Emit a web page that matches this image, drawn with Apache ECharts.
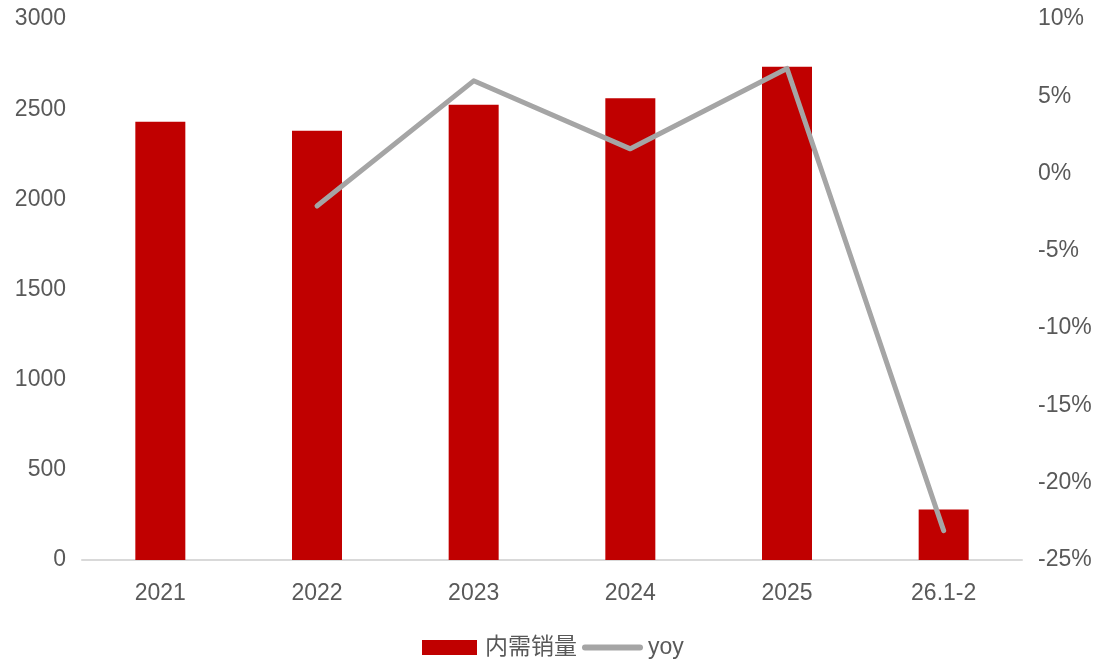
<!DOCTYPE html>
<html>
<head>
<meta charset="utf-8">
<script src="https://cdn.jsdelivr.net/npm/echarts@6/dist/echarts.min.js"></script>
<style>
  html, body { margin: 0; padding: 0; background: #fff; }
  #chart { width: 1099px; height: 664px; }
</style>
</head>
<body>
<div id="chart"></div>
<script>
// Periods on the x axis
const categories = ['2021', '2022', '2023', '2024', '2025', '26.1-2'];
// Domestic sales volume (left axis)
const salesVolume = [2430, 2380, 2525, 2560, 2735, 280];
// Year-over-year change, percent (right axis)
const yoyPercent = [null, -2.1, 6.0, 1.6, 6.8, -23.1];

const labelColor = '#595959';
const fontFamily = 'Arial, "Liberation Sans", "Noto Sans CJK SC", sans-serif';

const chart = echarts.init(document.getElementById('chart'), null, { renderer: 'canvas' });
chart.setOption({
  animation: false,
  backgroundColor: '#ffffff',
  textStyle: { fontFamily: fontFamily },
  grid: { left: 82, right: 77, top: 19, bottom: 104, containLabel: false },
  legend: {
    bottom: 0,
    left: 417,
    itemWidth: 55,
    itemHeight: 15,
    itemGap: 5,
    textStyle: { fontSize: 23, color: labelColor, fontFamily: fontFamily, padding: [0, 0, 0, 3] },
    data: [
      { name: '内需销量', icon: 'rect' },
      {
        name: 'yoy',
        lineStyle: { width: 6, cap: 'round', color: '#a5a5a5' },
        itemStyle: { opacity: 0 }
      }
    ]
  },
  xAxis: {
    type: 'category',
    data: categories,
    axisLine: { lineStyle: { color: '#d9d9d9', width: 2 } },
    axisTick: { show: false },
    axisLabel: { color: labelColor, fontSize: 23, margin: 22 }
  },
  yAxis: [
    {
      type: 'value',
      min: 0,
      max: 3000,
      interval: 500,
      splitLine: { show: false },
      axisLine: { show: false },
      axisTick: { show: false },
      axisLabel: { color: labelColor, fontSize: 23, margin: 16, formatter: (v) => String(v) }
    },
    {
      type: 'value',
      min: -25,
      max: 10,
      interval: 5,
      splitLine: { show: false },
      axisLine: { show: false },
      axisTick: { show: false },
      axisLabel: { color: labelColor, fontSize: 23, margin: 16, formatter: '{value}%' }
    }
  ],
  series: [
    {
      name: '内需销量',
      type: 'bar',
      data: salesVolume,
      barWidth: 50,
      itemStyle: { color: '#c00000' }
    },
    {
      name: 'yoy',
      type: 'line',
      yAxisIndex: 1,
      data: yoyPercent,
      showSymbol: false,
      symbol: 'none',
      lineStyle: { color: '#a5a5a5', width: 5, cap: 'round', join: 'round' },
      itemStyle: { color: '#a5a5a5' }
    }
  ]
});
</script>
</body>
</html>
